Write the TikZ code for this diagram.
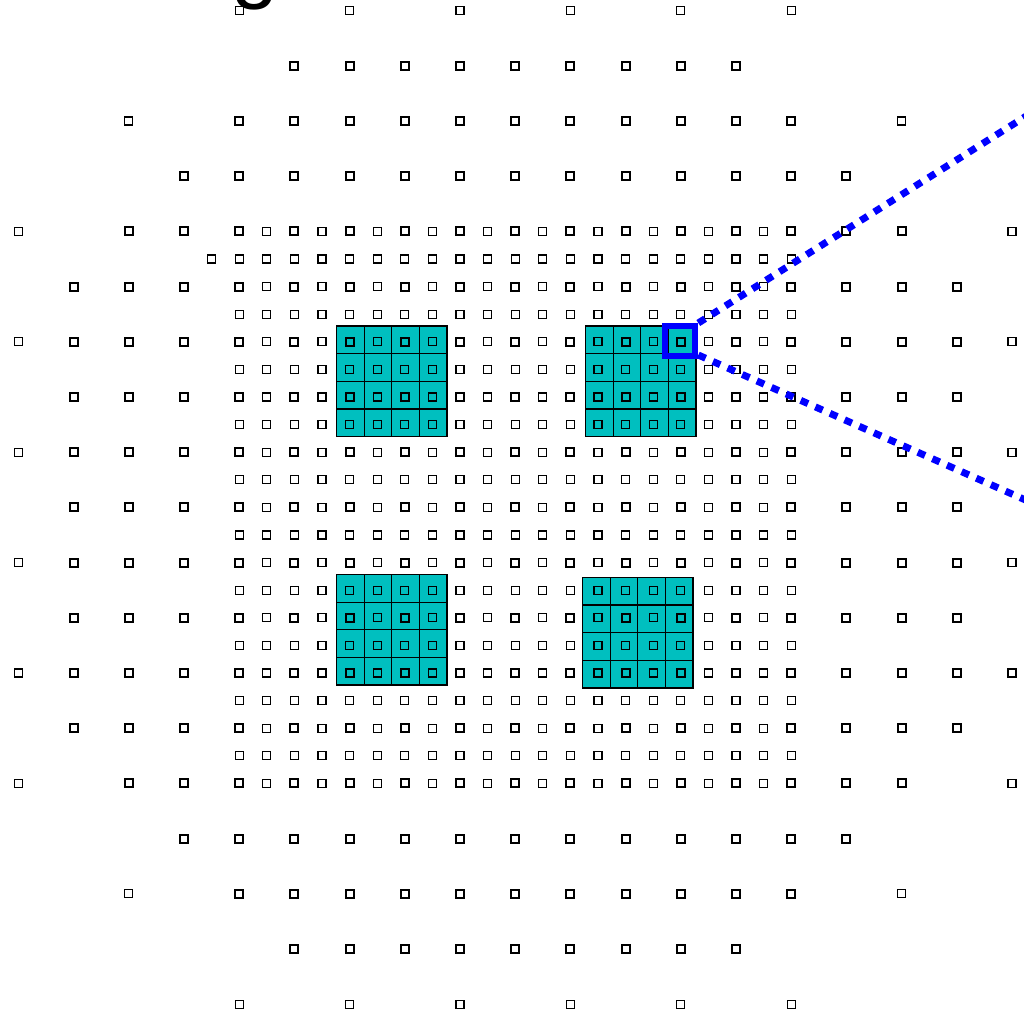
\documentclass[tikz,border=0pt]{standalone}
\usepackage{fontspec}
\setmainfont{Liberation Sans}
\definecolor{tealfill}{RGB}{0,191,191}
\tikzset{
  thk/.style={draw=black, line width=2pt},
  thn/.style={draw=black, line width=1.2pt},
  cell/.style={fill=tealfill, draw=black, line width=1.3pt},
  selbox/.style={draw=blue, line width=6pt, minimum size=30pt, inner sep=0pt, outer sep=0pt},
  zoomline/.style={draw=blue, line width=7pt, dash pattern=on 8pt off 8pt},
}
\newcommand{\sqat}[3]{\path[#3] ({18.4+27.6*#1-4},{10.5+27.6*#2-4}) rectangle ++(8,8);}
\newcommand{\cblock}[2]{\foreach \i in {0,...,3}{\foreach \j in {0,...,3}{\path[cell] ({#1+27.65*\i},{#2+27.65*\j}) rectangle ++(27.65,27.65);}}}
\begin{document}
\begin{tikzpicture}[x=1pt,y=-1pt]
\useasboundingbox (0,0) rectangle (1024,1017);
\fill[white] (0,0) rectangle (1024,1017);
\clip (0,0) rectangle (1024,1017);
% partial label at top
\node[font=\fontsize{85}{85}\selectfont, anchor=base west, inner sep=0pt] (glabel) at (231,-7) {g};
% cyan blocks
\cblock{336.5}{326}
\cblock{585.5}{326}
\cblock{336.5}{574.5}
\cblock{582.5}{577.3}
% sparse outer squares
\foreach \b in {2,34}{\foreach \a in {10,12,...,26}{\sqat{\a}{\b}{thk}}}
\foreach \b in {4,32}{\foreach \a in {8,10,...,28}{\sqat{\a}{\b}{thk}} \sqat{4}{\b}{thn} \sqat{32}{\b}{thn}}
\foreach \b in {6,30}{\foreach \a in {6,8,...,30}{\sqat{\a}{\b}{thk}}}
\foreach \b in {8,28}{\foreach \a in {4,6,30,32}{\sqat{\a}{\b}{thk}}}
\foreach \b in {10,12,...,26}{\foreach \a in {2,4,6,30,32,34}{\sqat{\a}{\b}{thk}}}
\foreach \b in {8,12,...,28}{\sqat{0}{\b}{thn}\sqat{36}{\b}{thn}}
\foreach \b in {0,36}{\foreach \a in {8,12,...,28}{\sqat{\a}{\b}{thn}}}
\sqat{7}{9}{thn}
% dense centre
\foreach \a in {8,...,28}{\foreach \b in {8,...,28}{%
  \ifodd\a \sqat{\a}{\b}{thn}\else\ifodd\b \sqat{\a}{\b}{thn}\else \sqat{\a}{\b}{thk}\fi\fi}}
% selection and zoom lines
\node[selbox] (sel) at (680.3,341) {};
\coordinate (upend) at (1100,69.5);
\coordinate (lowend) at (1100,533);
\draw[zoomline] ([xshift=3pt,yshift=3pt]sel.north east) -- (upend);
\draw[zoomline] ([xshift=3pt,yshift=1pt]sel.south east) -- (lowend);
\end{tikzpicture}
\end{document}
